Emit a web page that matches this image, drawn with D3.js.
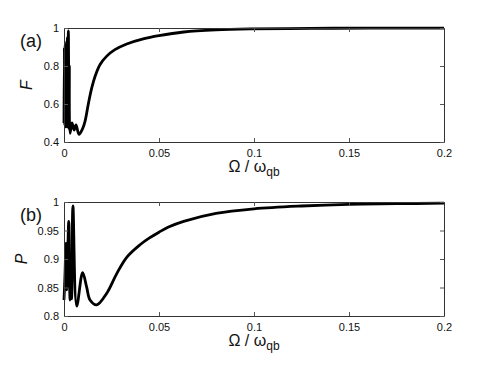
<!DOCTYPE html>
<html>
<head>
<meta charset="utf-8">
<script src="https://cdn.jsdelivr.net/npm/d3@7"></script>
<style>
  body { margin: 0; background: #fff; }
  text { font-family: "Liberation Sans", Arial, sans-serif; }
</style>
</head>
<body>
<script>
// Data: Omega / omega_qb and the two curves
let omegaF = [0, 0.0002, 0.0004, 0.0006, 0.0008, 0.001, 0.0012, 0.0014, 0.0016, 0.0018, 0.002,
  0.0023, 0.0026, 0.0028, 0.0032, 0.0042, 0.0053, 0.0063, 0.0079, 0.0098, 0.0111, 0.0128,
  0.0146, 0.0165, 0.019, 0.0225, 0.0268, 0.033, 0.0417, 0.05, 0.063, 0.08, 0.098, 0.13, 0.16, 0.2];
let valuesF = [0.50, 0.90, 0.49, 0.91, 0.48, 0.90, 0.50, 0.93, 0.48, 0.95, 0.50,
  0.985, 0.47, 0.80, 0.446, 0.50, 0.463, 0.49, 0.44, 0.47, 0.51, 0.60,
  0.685, 0.75, 0.808, 0.852, 0.886, 0.916, 0.943, 0.960, 0.979, 0.990, 0.995, 0.998, 0.999, 0.9995];

let omegaP = [0, 0.0005, 0.00105, 0.0014, 0.0017, 0.0025, 0.0032, 0.0037, 0.004, 0.0047, 0.0067,
  0.0098, 0.0119, 0.0137, 0.0172, 0.0225, 0.0277, 0.033, 0.04, 0.045, 0.05, 0.055, 0.063,
  0.08, 0.1, 0.125, 0.15, 0.175, 0.2];
let valuesP = [0.828, 0.87, 0.928, 0.846, 0.87, 0.966, 0.828, 0.858, 0.83, 0.993, 0.8175,
  0.876, 0.851, 0.828, 0.8195, 0.84, 0.874, 0.903, 0.925, 0.937, 0.947, 0.956, 0.966,
  0.980, 0.988, 0.993, 0.996, 0.997, 0.998];

let xTicks = [0, 0.05, 0.1, 0.15, 0.2];
let fTicks = [0.4, 0.6, 0.8, 1];
let pTicks = [0.8, 0.85, 0.9, 0.95, 1];

let width = 491, height = 369;
let left = 64, right = 444;

let svg = d3.select('body')
  .append('svg')
  .attr('width', width)
  .attr('height', height)
  .style('background', '#fff');

let fmt = d => String(+d.toFixed(2));

let xScale = d3.scaleLinear()
  .domain([0, 0.2])
  .range([left, right]);

function panel(top, bottom, yDomain, yTicks, omega, values, yName, tag) {
  let yScale = d3.scaleLinear()
    .domain(yDomain)
    .range([bottom, top]);

  // curve
  let line = d3.line()
    .x((d, i) => xScale(omega[i]))
    .y(d => yScale(d))
    .curve(d3.curveCatmullRom.alpha(0.5));

  svg.append('path')
    .datum(values)
    .attr('d', line)
    .attr('fill', 'none')
    .attr('stroke', '#000')
    .attr('stroke-width', 2.8)
    .attr('stroke-linejoin', 'round');

  // axes on all four sides, ticks pointing inward
  let xb = svg.append('g')
    .attr('transform', `translate(0,${bottom})`)
    .call(d3.axisBottom(xScale).tickValues(xTicks).tickFormat(fmt)
      .tickSizeInner(-4).tickSizeOuter(0).tickPadding(7));
  let xt = svg.append('g')
    .attr('transform', `translate(0,${top})`)
    .call(d3.axisTop(xScale).tickValues(xTicks).tickFormat('')
      .tickSizeInner(-4).tickSizeOuter(0));
  let yl = svg.append('g')
    .attr('transform', `translate(${left},0)`)
    .call(d3.axisLeft(yScale).tickValues(yTicks).tickFormat(fmt)
      .tickSizeInner(-4).tickSizeOuter(0).tickPadding(5));
  let yr = svg.append('g')
    .attr('transform', `translate(${right},0)`)
    .call(d3.axisRight(yScale).tickValues(yTicks).tickFormat('')
      .tickSizeInner(-4).tickSizeOuter(0));

  [xb, xt, yl, yr].forEach(g => {
    g.select('.domain').attr('stroke', '#333');
    g.selectAll('.tick line').attr('stroke', '#555');
    g.selectAll('.tick text')
      .attr('fill', '#111')
      .style('font-family', '"Liberation Sans", Arial, sans-serif')
      .style('font-size', '11px');
  });

  // x axis title
  let xt2 = svg.append('text')
    .attr('x', (left + right) / 2)
    .attr('y', bottom + 30)
    .attr('text-anchor', 'middle')
    .style('font-size', '16px')
    .attr('fill', '#111');
  xt2.append('tspan').text('Ω / ω');
  xt2.append('tspan').attr('dy', 4).style('font-size', '12px').text('qb');

  // y axis title
  svg.append('text')
    .attr('transform', `translate(${yName === 'F' ? 32 : 27},${(top + bottom) / 2}) rotate(-90)`)
    .attr('text-anchor', 'middle')
    .style('font-size', '16px')
    .style('font-style', 'italic')
    .attr('fill', '#111')
    .text(yName);

  // panel tag
  svg.append('text')
    .attr('x', 20)
    .attr('y', top + 19)
    .style('font-size', '18px')
    .attr('fill', '#111')
    .text(tag);
}

panel(28, 142, [0.4, 1], fTicks, omegaF, valuesF, 'F', '(a)');
panel(202, 316, [0.8, 1], pTicks, omegaP, valuesP, 'P', '(b)');
</script>
</body>
</html>
